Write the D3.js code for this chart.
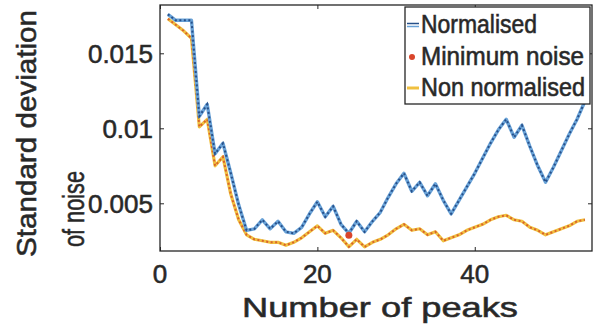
<!DOCTYPE html>
<html>
<head>
<meta charset="utf-8">
<script src="https://cdn.jsdelivr.net/npm/d3@7"></script>
<style>
  html, body { margin: 0; padding: 0; background: #fff; }
  svg { display: block; font-family: "Liberation Sans", Arial, sans-serif; }
  svg text { stroke: #333; stroke-width: 0.6px; }
</style>
</head>
<body>
<svg id="chart" width="599" height="329"></svg>
<script>
// ---- data ----
const peaks = d3.range(1, 55); // 1..54
const normalised = [
  0.0176, 0.0172, 0.0172, 0.0172, 0.0108, 0.0116, 0.0083, 0.0090, 0.0070, 0.0049,
  0.0032, 0.0033, 0.0039, 0.0033, 0.0038, 0.0031, 0.0030, 0.0034, 0.0043, 0.0051,
  0.0041, 0.0048, 0.0036, 0.0030, 0.0038, 0.0031, 0.0038, 0.0044, 0.0054, 0.0063,
  0.0070, 0.0058, 0.0064, 0.0055, 0.0063, 0.0052, 0.0043, 0.0052, 0.0061, 0.0070,
  0.0080, 0.0090, 0.0099, 0.0106, 0.0094, 0.0102, 0.0088, 0.0075, 0.0064, 0.0074,
  0.0085, 0.0096, 0.0106, 0.0118
];
const nonNormalised = [
  0.0173, 0.0169, 0.0165, 0.0160, 0.0101, 0.0106, 0.0075, 0.0081, 0.0056, 0.0039,
  0.0029, 0.0026, 0.0025, 0.0024, 0.0024, 0.0022, 0.0024, 0.0027, 0.0031, 0.0035,
  0.0030, 0.0032, 0.0027, 0.0021, 0.0026, 0.0021, 0.0024, 0.0026, 0.0029, 0.0033,
  0.0036, 0.0032, 0.0033, 0.0029, 0.0031, 0.0025, 0.0027, 0.0029, 0.0032, 0.0034,
  0.0036, 0.0039, 0.0041, 0.0042, 0.0039, 0.0038, 0.0034, 0.0032, 0.0029, 0.0031,
  0.0033, 0.0035, 0.0038, 0.0039
];
const minimumNoise = [{ n: 24, v: 0.00287 }];
const xTicks = [0, 20, 40];
const yTicks = [0.005, 0.01, 0.015];
const yTickLabels = ["0.005", "0.01", "0.015"];
const legendLabels = ["Normalised", "Minimum noise", "Non normalised"];

// ---- layout ----
const svg = d3.select("#chart");
const L = 160, R = 592, T = 5, B = 251;
const x = d3.scaleLinear().domain([0, 54.9]).range([L, R]);
const y = d3.scaleLinear().domain([0.00182, 0.01822]).range([B, T]);
const textCol = "#262626";

const line = d3.line().x((d, i) => x(peaks[i])).y(d => y(d));

// non normalised (yellow) with orange dotted texture
svg.append("path").datum(nonNormalised).attr("d", line)
  .attr("fill", "none").attr("stroke", "#f0c040").attr("stroke-width", 3.2).attr("stroke-linejoin", "round");
svg.append("path").datum(nonNormalised).attr("d", line)
  .attr("fill", "none").attr("stroke", "#d9622b").attr("stroke-width", 2).attr("stroke-dasharray", "2,2.5");

// normalised (blue) with dark dotted texture
svg.append("path").datum(normalised).attr("d", line)
  .attr("fill", "none").attr("stroke", "#6aa3d8").attr("stroke-width", 3.4).attr("stroke-linejoin", "round");
svg.append("path").datum(normalised).attr("d", line)
  .attr("fill", "none").attr("stroke", "#27508a").attr("stroke-width", 2).attr("stroke-dasharray", "2,2.5");

// minimum noise marker
svg.selectAll("circle.min").data(minimumNoise).enter().append("circle")
  .attr("class", "min").attr("cx", d => x(d.n)).attr("cy", d => y(d.v))
  .attr("r", 3.5).attr("fill", "#d9452b");

// axes box
const axisG = svg.append("g");
axisG.append("g").attr("transform", `translate(0,${B})`)
  .call(d3.axisBottom(x).tickValues(xTicks).tickSize(-4).tickFormat(""))
  .call(g => g.select(".domain").remove());
axisG.append("g").attr("transform", `translate(0,${T})`)
  .call(d3.axisTop(x).tickValues(xTicks).tickSize(-4).tickFormat(""))
  .call(g => g.select(".domain").remove());
axisG.append("g").attr("transform", `translate(${L},0)`)
  .call(d3.axisLeft(y).tickValues(yTicks).tickSize(-4).tickFormat(""))
  .call(g => g.select(".domain").remove());
axisG.append("g").attr("transform", `translate(${R},0)`)
  .call(d3.axisRight(y).tickValues(yTicks).tickSize(-4).tickFormat(""))
  .call(g => g.select(".domain").remove());
axisG.selectAll(".tick line").attr("stroke", textCol).attr("stroke-width", 1);
svg.append("rect").attr("x", L).attr("y", T).attr("width", R - L).attr("height", B - T)
  .attr("fill", "none").attr("stroke", textCol).attr("stroke-width", 1.3);

// tick labels
svg.selectAll("text.xt").data(xTicks).enter().append("text")
  .attr("class", "xt").attr("x", d => x(d)).attr("y", 283)
  .attr("text-anchor", "middle").attr("font-size", 26).attr("fill", textCol)
  .text(d => d);
svg.selectAll("text.yt").data(yTicks).enter().append("text")
  .attr("class", "yt").attr("x", 153).attr("y", d => y(d) + 10)
  .attr("text-anchor", "end").attr("font-size", 26).attr("fill", textCol)
  .text((d, i) => yTickLabels[i]);

// axis labels
svg.append("text").attr("x", 380).attr("y", 317).attr("text-anchor", "middle")
  .attr("font-size", 28).attr("fill", textCol)
  .attr("textLength", 276).attr("lengthAdjust", "spacingAndGlyphs")
  .text("Number of peaks");
svg.append("text").attr("transform", "translate(36,257) rotate(-90)")
  .attr("text-anchor", "start").attr("font-size", 28).attr("fill", textCol)
  .attr("textLength", 247).attr("lengthAdjust", "spacingAndGlyphs")
  .text("Standard deviation");
svg.append("text").attr("transform", "translate(84,247) rotate(-90)")
  .attr("text-anchor", "start").attr("font-size", 30).attr("fill", textCol)
  .attr("textLength", 76).attr("lengthAdjust", "spacingAndGlyphs")
  .text("of noise");

// legend
const lg = svg.append("g");
lg.append("rect").attr("x", 405).attr("y", 7).attr("width", 185).attr("height", 97)
  .attr("fill", "#fff").attr("stroke", textCol).attr("stroke-width", 1.3);
const rowsY = [25, 57, 88];
const widths = [116, 163, 164];
lg.selectAll("text.lt").data(legendLabels).enter().append("text")
  .attr("class", "lt").attr("x", 421).attr("y", (d, i) => rowsY[i] + 8)
  .attr("font-size", 25).attr("fill", textCol)
  .attr("textLength", (d, i) => widths[i]).attr("lengthAdjust", "spacingAndGlyphs")
  .text(d => d);
lg.append("line").attr("x1", 407).attr("x2", 419).attr("y1", rowsY[0] - 1.5).attr("y2", rowsY[0] - 1.5)
  .attr("stroke", "#27508a").attr("stroke-width", 1.5);
lg.append("line").attr("x1", 407).attr("x2", 419).attr("y1", rowsY[0] + 1.5).attr("y2", rowsY[0] + 1.5)
  .attr("stroke", "#6aa3d8").attr("stroke-width", 1.5);
lg.append("circle").attr("cx", 412).attr("cy", rowsY[1]).attr("r", 3).attr("fill", "#d9452b");
lg.append("line").attr("x1", 407).attr("x2", 419).attr("y1", rowsY[2]).attr("y2", rowsY[2])
  .attr("stroke", "#f0c040").attr("stroke-width", 3);
</script>
</body>
</html>
